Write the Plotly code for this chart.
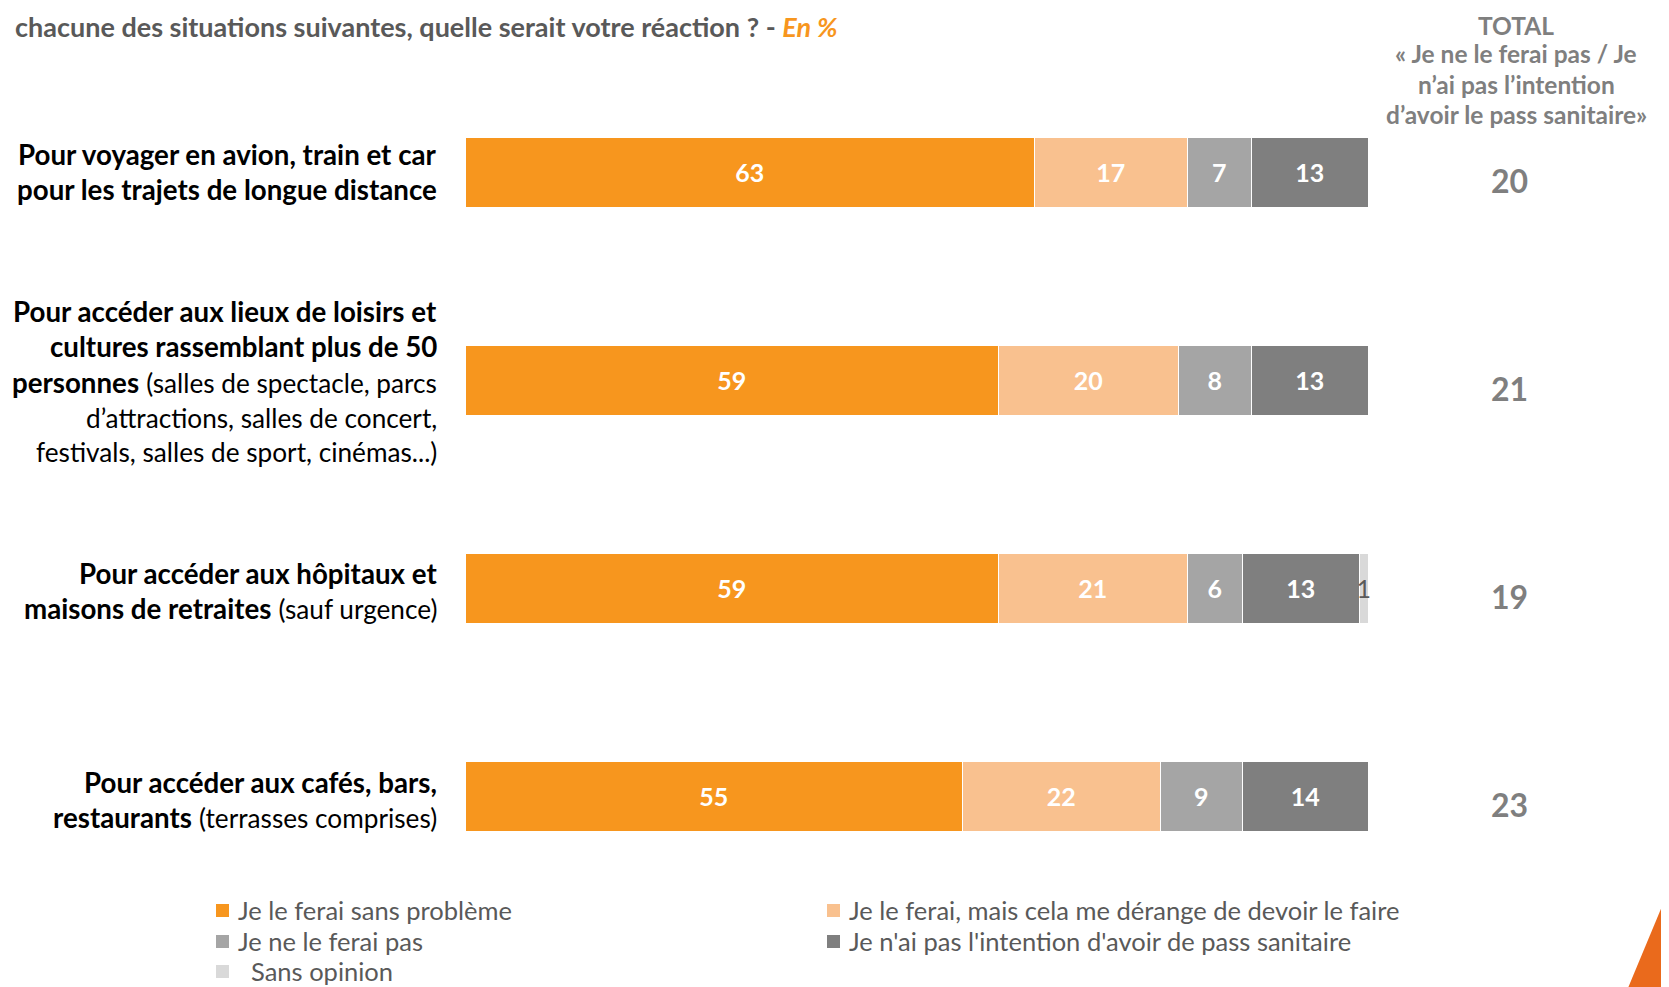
import plotly.graph_objects as go

# page is offset by the default 8px body margin: work in page pixels, convert to svg
OFF = 8
W_PAGE, H_PAGE = 1669, 987
W_FIG, H_FIG = W_PAGE - OFF, H_PAGE - OFF

REG = "<span style='font-size:26.2px'>{}</span>"

categories = ["c1", "c2", "c3", "c4"]
label_lines = [
    ["<b>Pour voyager en avion, train et car</b>", "<b>pour les trajets de longue distance</b>"],
    ["<b>Pour accéder aux lieux de loisirs et</b>", "<b>cultures rassemblant plus de 50</b>",
     "<b>personnes</b> " + REG.format("(salles de spectacle, parcs"),
     REG.format("d’attractions, salles de concert,"),
     REG.format("festivals, salles de sport, cinémas...)")],
    ["<b>Pour accéder aux hôpitaux et</b>",
     "<b>maisons de retraites</b> " + REG.format("(sauf urgence)")],
    ["<b>Pour accéder aux cafés, bars,</b>",
     "<b>restaurants</b> " + REG.format("(terrasses comprises)")],
]
label_line_y = [[154, 190], [311, 346, 383, 418, 452], [573, 608], [782, 817]]

series_names = ["Je le ferai sans problème",
                "Je le ferai, mais cela me dérange de devoir le faire",
                "Je ne le ferai pas",
                "Je n'ai pas l'intention d'avoir de pass sanitaire",
                "Sans opinion"]
sans_probleme = [63, 59, 59, 55]
derange = [17, 20, 21, 22]
ne_ferai_pas = [7, 8, 6, 9]
pas_intention = [13, 13, 13, 14]
sans_opinion = [0, 0, 1, 0]
totals = [20, 21, 19, 23]
colors = ["#F7961E", "#F9C18F", "#A5A5A5", "#7F7F7F", "#D9D9D9"]

FONT = "Lato"

# plot area geometry (page pixels)
L_PAGE = 466
PPU = 9.03                     # pixels per percentage point
ML = L_PAGE - OFF
MR = 20
XMAX = (W_FIG - MR - ML) / PPU
PW = W_FIG - MR - ML

def px(p):
    return (p - OFF - ML) / PW

def py(p):
    return 1 - (p - OFF) / H_FIG

fig = go.Figure()
series = [sans_probleme, derange, ne_ferai_pas, pas_intention, sans_opinion]
for i, (name, vals, col) in enumerate(zip(series_names, series, colors)):
    last = i == 4
    fig.add_trace(go.Bar(
        y=categories, x=vals, orientation="h", name=name,
        marker=dict(color=col, line=dict(color="white", width=1.5)),
        text=[(str(v) if v else "") for v in vals], textposition="inside",
        insidetextanchor="middle", constraintext="none",
        textfont=dict(family=FONT, size=25,
                      color="#595959" if last else "white",
                      weight="normal" if last else "bold"),
        width=0.335, showlegend=False, hoverinfo="skip", cliponaxis=False))

top_c, step = 173 - OFF, 208
y0 = -top_c / step
y1 = (H_FIG - top_c) / step
fig.update_layout(
    width=W_FIG, height=H_FIG,
    margin=dict(l=ML, r=MR, t=0, b=0, pad=0),
    barmode="stack", bargap=0,
    plot_bgcolor="white", paper_bgcolor="white",
    xaxis=dict(range=[0, XMAX], visible=False, fixedrange=True),
    yaxis=dict(categoryorder="array", categoryarray=categories,
               range=[y1, y0], visible=False),
    font=dict(family=FONT),
)

ann = []
# totals column, positioned through the axes
TOT_X = (1509 - L_PAGE) / PPU
for c, t in zip(categories, totals):
    ann.append(dict(x=TOT_X, y=c, xref="x", yref="y", text=f"<b>{t}</b>",
                    showarrow=False, xanchor="center", yanchor="middle", yshift=-7,
                    font=dict(family=FONT, size=32, color="#7F7F7F")))

for lines, ys in zip(label_lines, label_line_y):
    for t, yy in zip(lines, ys):
        ann.append(dict(x=px(439), y=py(yy), xref="paper", yref="paper",
                        text=t, showarrow=False, xanchor="right", yanchor="middle",
                        font=dict(family=FONT, size=27.7, color="black")))

header = ["<b>TOTAL</b>", "<b>« Je ne le ferai pas / Je</b>",
          "<b>n’ai pas l’intention</b>", "<b>d’avoir le pass sanitaire»</b>"]
for t, yy in zip(header, [25, 53, 84, 115]):
    ann.append(dict(x=px(1516), y=py(yy), xref="paper", yref="paper", text=t,
                    showarrow=False, xanchor="center", yanchor="middle",
                    font=dict(family=FONT, size=24.5, color="#7F7F7F")))

# title (cropped in the reference; kept fully readable here)
ann.append(dict(x=px(13), y=1.0, xref="paper", yref="paper",
                text="<b>chacune des situations suivantes, quelle serait votre réaction ? - </b>"
                     "<b><i><span style='color:#F7961E'>En %</span></i></b>",
                showarrow=False, xanchor="left", yanchor="top",
                font=dict(family=FONT, size=27, color="#595959")))

# legend
leg_pos = [(222, 910), (833, 910), (222, 941), (833, 941), (222, 971)]
shapes = []
for (lx, ly), name, col in zip(leg_pos, series_names, colors):
    shapes.append(dict(type="rect", xref="paper", yref="paper",
                       x0=px(lx - 6), x1=px(lx + 7), y0=py(ly + 7), y1=py(ly - 6),
                       fillcolor=col, line=dict(width=0)))
    tx = lx + 14 if name != "Sans opinion" else lx + 27
    ann.append(dict(x=px(tx), y=py(ly), xref="paper", yref="paper", text=name,
                    showarrow=False, xanchor="left", yanchor="middle",
                    font=dict(family=FONT, size=25.5, color="#595959")))

# decorative orange corner triangle
shapes.append(dict(type="path", xref="paper", yref="paper",
                   path=f"M {px(1670)} {py(887)} L {px(1670)} {py(988)} L {px(1628)} {py(988)} Z",
                   fillcolor="#EA6A1C", line=dict(width=0)))

fig.update_layout(annotations=ann, shapes=shapes)
fig.write_html("out.html")
